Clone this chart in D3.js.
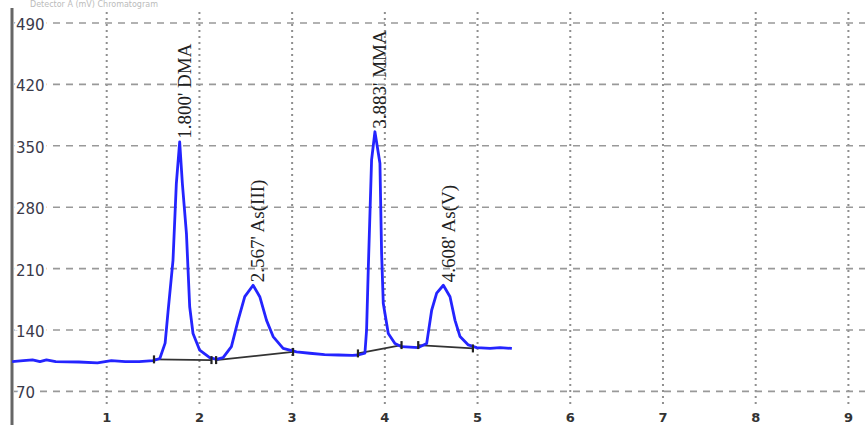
<!DOCTYPE html>
<html><head><meta charset="utf-8">
<script src="https://cdn.jsdelivr.net/npm/d3@7"></script>
<style>html,body{margin:0;padding:0;background:#fff;overflow:hidden}</style>
</head><body>
<svg id="c" width="865" height="431"></svg>
<script>
// ---- data ----
const yTicks = [70, 140, 210, 280, 350, 420, 490];
const xTicks = [1, 2, 3, 4, 5, 6, 7, 8, 9];
const traceTime = [-0.02,0.1,0.2,0.28,0.35,0.45,0.7,0.9,1.05,1.2,1.35,1.5,1.573,1.63,1.661,1.715,1.751,1.787,1.816,1.86,1.895,1.931,2.003,2.111,2.184,2.255,2.345,2.417,2.489,2.579,2.651,2.724,2.795,2.903,3.047,3.19,3.35,3.5,3.65,3.713,3.785,3.803,3.821,3.857,3.893,3.947,3.965,3.983,4.037,4.109,4.181,4.361,4.451,4.505,4.559,4.631,4.703,4.757,4.811,4.90,4.99,5.135,5.243,5.37];
const traceSignal = [104,105,106,104,106,104,103.5,102.5,105,104,104,105,107.5,125,160.5,219.5,307,354.5,307,250,166.5,136,117,108.5,106.5,108.5,121,151,178,191,178,151,132.5,119,115,113.5,112,111.5,111,111.5,113.5,140,208.5,334,366,330,227.5,170.5,136,124.5,121,120,124.5,162.5,182,191,178,151,132.5,123,120,119,120,119];
const peakTimes = [1.800, 2.567, 3.883, 4.608];
const peakNames = ["DMA", "As(III)", "MMA", "As(V)"];
const baseStartT = [1.51, 2.18, 3.71, 4.36];
const baseStartV = [106.5, 105.7, 113.3, 122.8];
const baseEndT = [2.13, 3.01, 4.18, 4.95];
const baseEndV = [105.7, 115, 122.8, 119];
const headerText = "Detector A  (mV)  Chromatogram";

// ---- scales ----
const svg = d3.select("#c");
const x = d3.scaleLinear().domain([0, 9]).range([14, 848.4]);
const y = d3.scaleLinear().domain([490, 70]).range([23, 391.4]);

// header (mostly hidden at top in reference)
svg.append("text").attr("x", 30).attr("y", 7)
  .attr("font-family", "DejaVu Sans").attr("font-size", 8).attr("fill", "#bbb")
  .text(headerText);

// grid
const g = svg.append("g");
g.selectAll("line.v").data(xTicks).join("line")
  .attr("x1", d => x(d)).attr("x2", d => x(d)).attr("y1", 12).attr("y2", 408)
  .attr("stroke", "#8f8f8f").attr("stroke-width", 2).attr("stroke-dasharray", "2,4");
g.selectAll("line.h").data(yTicks).join("line")
  .attr("x1", 14).attr("x2", 865).attr("y1", d => y(d)).attr("y2", d => y(d))
  .attr("stroke", "#999").attr("stroke-width", 1.6).attr("stroke-dasharray", "7,6");

// y labels
svg.selectAll("text.yl").data(yTicks).join("text")
  .attr("x", 16).attr("y", d => y(d) + 2.5)
  .attr("dominant-baseline", "middle")
  .attr("font-family", "DejaVu Sans").attr("font-size", 15)
  .attr("fill", "#3a3a4a").attr("stroke", "#fff").attr("stroke-width", 6)
  .attr("paint-order", "stroke")
  .text(d => d);

// x labels
svg.selectAll("text.xl").data(xTicks).join("text")
  .attr("x", d => x(d)).attr("y", 418)
  .attr("text-anchor", "middle").attr("dominant-baseline", "middle")
  .attr("font-family", "DejaVu Sans").attr("font-size", 13).attr("font-weight", "bold")
  .attr("fill", "#333")
  .text(d => d);

// left axis
svg.append("line").attr("x1", 12).attr("x2", 12).attr("y1", 8).attr("y2", 425)
  .attr("stroke", "#666").attr("stroke-width", 3);

// baselines
const segs = baseStartT.map((t, i) => [[t, baseStartV[i]], [baseEndT[i], baseEndV[i]]]);
const line = d3.line().x(d => x(d[0])).y(d => y(d[1]));
svg.selectAll("path.base").data(segs).join("path")
  .attr("d", line).attr("fill", "none").attr("stroke", "#333").attr("stroke-width", 1.8);

// trace
const pts = traceTime.map((t, i) => [t, traceSignal[i]]);
svg.append("path").datum(pts).attr("d", line)
  .attr("fill", "none").attr("stroke", "#2424ff").attr("stroke-width", 2.8)
  .attr("stroke-linejoin", "round");

// baseline end markers
const ends = segs.flat();
svg.selectAll("line.mk").data(ends).join("line")
  .attr("x1", d => x(d[0])).attr("x2", d => x(d[0]))
  .attr("y1", d => y(d[1]) - 4).attr("y2", d => y(d[1]) + 4)
  .attr("stroke", "#222").attr("stroke-width", 2.2);

// peak labels
peakTimes.forEach((pt, i) => {
  let best = null;
  pts.forEach(p => { if (Math.abs(p[0] - pt) < 0.12 && (!best || p[1] > best[1])) best = p; });
  const lx = x(best[0]) + 7, ly = y(best[1]) - 3;
  svg.append("text")
    .attr("transform", `translate(${lx},${ly}) rotate(-90)`)
    .attr("dominant-baseline", "middle")
    .attr("font-family", "Liberation Serif").attr("font-size", 19)
    .attr("fill", "#222")
    .text(`${pt.toFixed(3)}' ${peakNames[i]}`);
});
</script>
</body></html>
